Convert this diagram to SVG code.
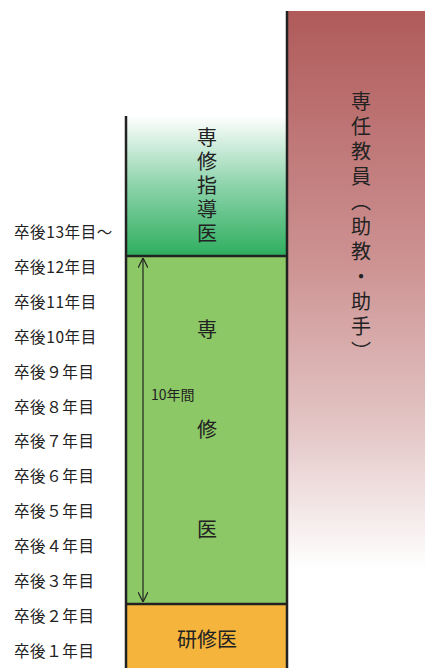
<svg xmlns="http://www.w3.org/2000/svg" width="425" height="668" viewBox="0 0 425 668">
<style>
text{font-family:"Noto Sans CJK JP","Noto Sans",sans-serif;fill:#222}
.lab{font-size:15.5px;letter-spacing:0.6px}
.big{font-size:20px;text-anchor:middle}
.vert{font-size:20px;writing-mode:vertical-rl}
.edge{stroke:#222;stroke-width:2.5;fill:none}
.thin{stroke:#222;stroke-width:1.2;fill:none}
</style>
<defs>
<linearGradient id="gGreen" x1="0" y1="0" x2="0" y2="1">
<stop offset="0" stop-color="#ffffff"/>
<stop offset="0.5" stop-color="#8cd3aa"/>
<stop offset="1" stop-color="#2eae5e"/>
</linearGradient>
<linearGradient id="gPink" x1="0" y1="0" x2="0" y2="1">
<stop offset="0" stop-color="#b05a5a"/>
<stop offset="0.45" stop-color="#cd9292"/>
<stop offset="0.75" stop-color="#e4c6c6"/>
<stop offset="1" stop-color="#ffffff"/>
</linearGradient>
<marker id="ah" viewBox="0 0 10 10" refX="10" refY="5" markerWidth="10" markerHeight="10" markerUnits="userSpaceOnUse" orient="auto-start-reverse">
<path d="M0,0 L10,5 L0,10" fill="none" stroke="#222" stroke-width="1.2"/>
</marker>
</defs>

<g id="faculty">
<rect x="287" y="11" width="138" height="558" fill="url(#gPink)"/>
<text class="vert" x="361" y="91" style="letter-spacing:5px">専任教員（助教・助手）</text>
</g>

<g id="instructor">
<rect x="126" y="116" width="161" height="140" fill="url(#gGreen)"/>
<text class="vert" x="207" y="127" style="letter-spacing:4px">専修指導医</text>
</g>

<g id="specialist">
<rect x="126" y="256" width="161" height="348" fill="#8cc866"/>
<text class="big" x="207" y="337">専</text>
<text class="big" x="207" y="437">修</text>
<text class="big" x="207" y="537">医</text>
</g>

<g id="resident">
<rect x="126" y="604" width="161" height="64" fill="#f5b43c"/>
<text class="big" x="207" y="647">研修医</text>
</g>

<g id="years">
<text class="lab" x="14" y="238">卒後13年目～</text>
<text class="lab" x="14" y="273">卒後12年目</text>
<text class="lab" x="14" y="308">卒後11年目</text>
<text class="lab" x="14" y="343">卒後10年目</text>
<text class="lab" x="14" y="378">卒後９年目</text>
<text class="lab" x="14" y="413">卒後８年目</text>
<text class="lab" x="14" y="447">卒後７年目</text>
<text class="lab" x="14" y="482">卒後６年目</text>
<text class="lab" x="14" y="517">卒後５年目</text>
<text class="lab" x="14" y="552">卒後４年目</text>
<text class="lab" x="14" y="587">卒後３年目</text>
<text class="lab" x="14" y="622">卒後２年目</text>
<text class="lab" x="14" y="657">卒後１年目</text>
</g>

<g id="connectors">
<line class="edge" x1="126" y1="116" x2="126" y2="668"/>
<line class="edge" x1="287" y1="11" x2="287" y2="668"/>
<line class="edge" x1="126" y1="256" x2="287" y2="256"/>
<line class="edge" x1="126" y1="604" x2="287" y2="604"/>
<line class="thin" x1="143" y1="258" x2="143" y2="602" marker-start="url(#ah)" marker-end="url(#ah)"/>
<text x="151" y="400" style="font-size:14px">10年間</text>
</g>
</svg>
